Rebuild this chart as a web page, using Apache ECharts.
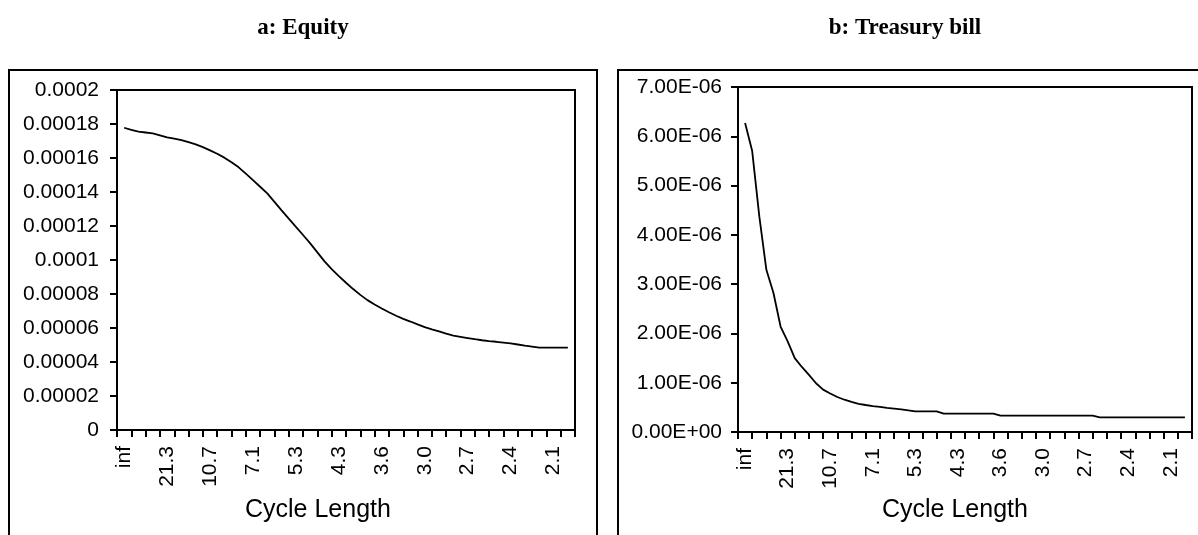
<!DOCTYPE html>
<html>
<head>
<meta charset="utf-8">
<script src="https://cdn.jsdelivr.net/npm/echarts@6/dist/echarts.min.js"></script>
<style>
  html, body { margin: 0; padding: 0; background: #fff; }
  #chart { width: 1198px; height: 535px; }
</style>
</head>
<body>
<div id="chart"></div>
<script>
// cycle length (periods) for each frequency step
var cycleLabels = ['inf', '128.0', '64.0', '42.7', '32.0', '25.6', '21.3', '18.3', '16.0', '14.2',
  '12.8', '11.6', '10.7', '9.8', '9.1', '8.5', '8.0', '7.5', '7.1', '6.7',
  '6.4', '6.1', '5.8', '5.6', '5.3', '5.1', '4.9', '4.7', '4.6', '4.4',
  '4.3', '4.1', '4.0', '3.9', '3.8', '3.7', '3.6', '3.5', '3.4', '3.3',
  '3.2', '3.1', '3.0', '3.0', '2.9', '2.8', '2.8', '2.7', '2.7', '2.6',
  '2.6', '2.5', '2.5', '2.4', '2.4', '2.3', '2.3', '2.2', '2.2', '2.2',
  '2.1', '2.1', '2.1'];

// a: Equity spectrum
var equity = [0.0001778, 0.0001765, 0.0001755, 0.000175, 0.0001745, 0.0001733, 0.0001721, 0.0001714, 0.0001705, 0.0001693,
  0.000168, 0.0001664, 0.0001645, 0.0001625, 0.0001602, 0.0001575, 0.0001545, 0.0001508, 0.000147, 0.0001431,
  0.0001392, 0.0001342, 0.0001292, 0.0001243, 0.0001195, 0.0001147, 0.0001098, 0.0001045, 0.0000992, 0.0000946,
  0.0000905, 0.0000866, 0.0000829, 0.0000795, 0.0000764, 0.0000738, 0.0000715, 0.0000693, 0.0000672, 0.0000654,
  0.0000638, 0.0000621, 0.0000605, 0.0000592, 0.000058, 0.0000567, 0.0000555, 0.0000548, 0.0000541, 0.0000534,
  0.0000528, 0.0000523, 0.0000519, 0.0000514, 0.0000509, 0.0000503, 0.0000496, 0.000049, 0.0000484, 0.0000484,
  0.0000484, 0.0000484, 0.0000484];

// b: Treasury bill spectrum
var tbill = [6.27e-6, 5.70e-6, 4.38e-6, 3.29e-6, 2.82e-6, 2.14e-6, 1.84e-6, 1.50e-6, 1.32e-6, 1.16e-6,
  0.99e-6, 0.86e-6, 0.78e-6, 0.71e-6, 0.655e-6, 0.61e-6, 0.57e-6, 0.548e-6, 0.527e-6, 0.51e-6,
  0.49e-6, 0.475e-6, 0.46e-6, 0.44e-6, 0.418e-6, 0.418e-6, 0.418e-6, 0.418e-6, 0.371e-6, 0.371e-6,
  0.371e-6, 0.371e-6, 0.371e-6, 0.371e-6, 0.371e-6, 0.371e-6, 0.331e-6, 0.331e-6, 0.331e-6, 0.331e-6,
  0.331e-6, 0.331e-6, 0.331e-6, 0.331e-6, 0.331e-6, 0.331e-6, 0.331e-6, 0.331e-6, 0.331e-6, 0.331e-6,
  0.296e-6, 0.296e-6, 0.296e-6, 0.296e-6, 0.296e-6, 0.296e-6, 0.296e-6, 0.296e-6, 0.296e-6, 0.296e-6,
  0.296e-6, 0.296e-6, 0.296e-6];

// axis has one empty slot at each end so points sit half a tick in
var axisCats = [''].concat(cycleLabels, ['']);

var sans = "'Liberation Sans', Arial, sans-serif";
var serifBold = "bold 23px 'Liberation Serif', 'Times New Roman', serif";

function toPairs(arr) {
  return arr.map(function (v, j) { return [j + 1, v]; });
}

function sciLabel(v) {
  var parts = v.toExponential(2).split('e');
  var e = parseInt(parts[1], 10);
  var sign = e < 0 ? '-' : '+';
  var ae = Math.abs(e);
  return parts[0] + 'E' + sign + (ae < 10 ? '0' + ae : ae);
}

function xAxisFor(gridIndex) {
  return {
    type: 'category',
    gridIndex: gridIndex,
    data: axisCats,
    boundaryGap: false,
    axisLine: { lineStyle: { color: '#000', width: 2 } },
    axisTick: { interval: 1, length: 7, lineStyle: { color: '#000', width: 2 } },
    axisLabel: {
      interval: function (i) { return i > 0 && (i - 1) % 6 === 0; },
      rotate: 90,
      margin: 16,
      color: '#000',
      fontSize: 21,
      fontFamily: sans
    },
    splitLine: { show: false }
  };
}

var myChart = echarts.init(document.getElementById('chart'));

myChart.setOption({
  animation: false,
  backgroundColor: '#fff',
  grid: [
    { left: 117, top: 90, width: 458, height: 340, show: true, borderColor: '#000', borderWidth: 2 },
    { left: 738, top: 87, width: 454, height: 345, show: true, borderColor: '#000', borderWidth: 2 }
  ],
  xAxis: [xAxisFor(0), xAxisFor(1)],
  yAxis: [
    {
      type: 'value',
      gridIndex: 0,
      min: 0,
      max: 0.0002,
      interval: 0.00002,
      axisLine: { show: true, lineStyle: { color: '#000', width: 2 } },
      axisTick: { show: true, length: 7, lineStyle: { color: '#000', width: 2 } },
      axisLabel: {
        margin: 18,
        color: '#000',
        fontSize: 21,
        fontFamily: sans,
        formatter: function (v) { return String(parseFloat(v.toPrecision(6))); }
      },
      splitLine: { show: false }
    },
    {
      type: 'value',
      gridIndex: 1,
      min: 0,
      max: 7e-6,
      interval: 1e-6,
      axisLine: { show: true, lineStyle: { color: '#000', width: 2 } },
      axisTick: { show: true, length: 7, lineStyle: { color: '#000', width: 2 } },
      axisLabel: {
        margin: 16,
        color: '#000',
        fontSize: 21,
        fontFamily: sans,
        formatter: sciLabel
      },
      splitLine: { show: false }
    }
  ],
  series: [
    {
      type: 'line',
      xAxisIndex: 0,
      yAxisIndex: 0,
      data: toPairs(equity),
      showSymbol: false,
      lineStyle: { color: '#000', width: 1.8 }
    },
    {
      type: 'line',
      xAxisIndex: 1,
      yAxisIndex: 1,
      data: toPairs(tbill),
      showSymbol: false,
      lineStyle: { color: '#000', width: 1.8 }
    }
  ],
  graphic: [
    // outer panel frames
    { type: 'rect', shape: { x: 9, y: 70, width: 588, height: 500 },
      style: { fill: 'none', stroke: '#000', lineWidth: 2 } },
    { type: 'rect', shape: { x: 618, y: 70, width: 600, height: 500 },
      style: { fill: 'none', stroke: '#000', lineWidth: 2 } },
    // panel titles
    { type: 'text', x: 303, y: 28,
      style: { text: 'a: Equity', fill: '#000', font: serifBold, textAlign: 'center', textVerticalAlign: 'middle' } },
    { type: 'text', x: 905, y: 28,
      style: { text: 'b: Treasury bill', fill: '#000', font: serifBold, textAlign: 'center', textVerticalAlign: 'middle' } },
    // axis titles
    { type: 'text', left: 245, top: 498,
      style: { text: 'Cycle Length', fill: '#000', font: "25px " + sans } },
    { type: 'text', left: 882, top: 498,
      style: { text: 'Cycle Length', fill: '#000', font: "25px " + sans } }
  ]
});
</script>
</body>
</html>
